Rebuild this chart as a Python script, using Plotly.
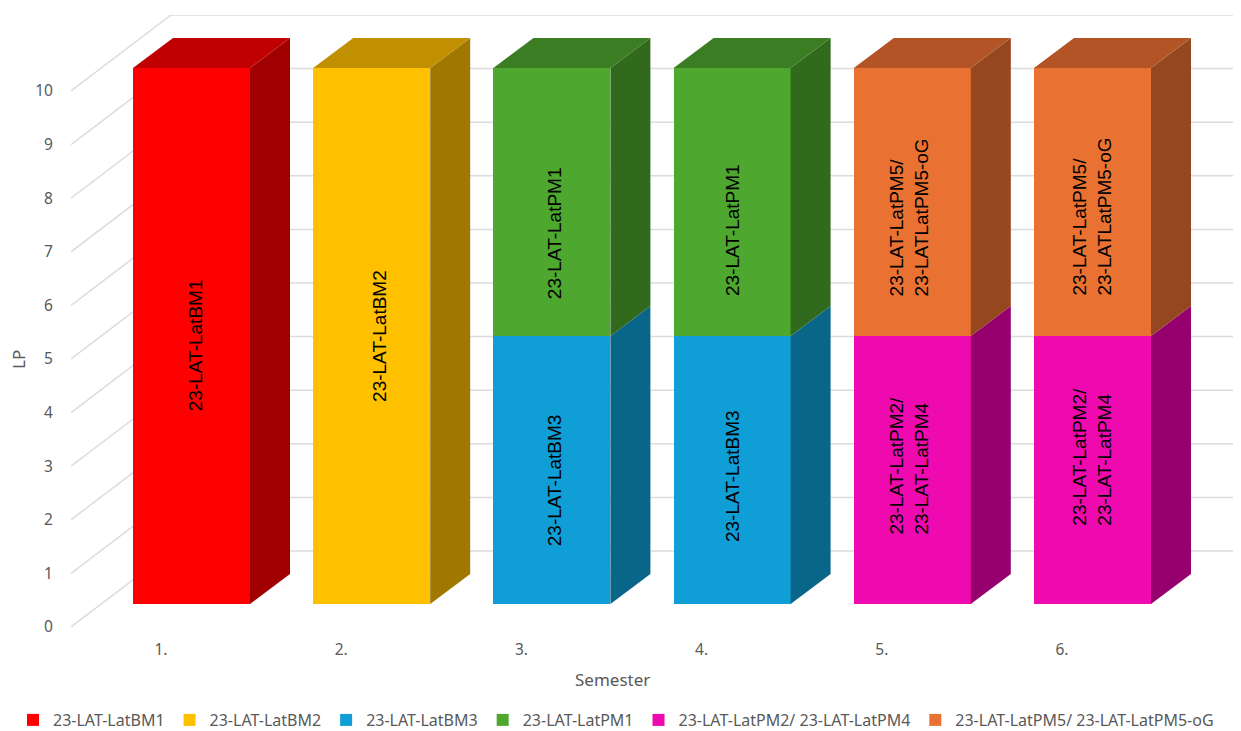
import plotly.graph_objects as go

semesters = ["1.", "2.", "3.", "4.", "5.", "6."]
positions = [0, 1, 2, 3, 4, 5]
lp_ticks = [0, 1, 2, 3, 4, 5, 6, 7, 8, 9, 10]

series_names = ["23-LAT-LatBM1", "23-LAT-LatBM2", "23-LAT-LatBM3", "23-LAT-LatPM1",
                "23-LAT-LatPM2/ 23-LAT-LatPM4", "23-LAT-LatPM5/ 23-LAT-LatPM5-oG"]
bm1 = [10, 0, 0, 0, 0, 0]
bm2 = [0, 10, 0, 0, 0, 0]
bm3 = [0, 0, 5, 5, 0, 0]
pm1 = [0, 0, 5, 5, 0, 0]
pm24 = [0, 0, 0, 0, 5, 5]
pm5 = [0, 0, 0, 0, 5, 5]
series_values = [bm1, bm2, bm3, pm1, pm24, pm5]

front_colors = ["#FF0000", "#FFC000", "#0F9ED5", "#4EA72E", "#EE0AAE", "#E97132"]
side_colors = ["#A00000", "#A07800", "#0A6688", "#31691D", "#96006E", "#95471F"]
top_colors = ["#C00000", "#C09000", "#0B769F", "#3B7D23", "#B20882", "#B25425"]

# scale of the picture (page has an 8 px body margin)
OFF = 8
W, H = 1241 - OFF, 731 - OFF
L, R, T, B = 71, 1241, 15, 627
PX_X = 180.2   # pixels per category
PX_Y = 53.6    # pixels per LP
BAR_W = 117 / PX_X
DEPTH_X = 40 / PX_X
DEPTH_Y = 30 / PX_Y
WALL_X = 100 / PX_X
WALL_Y = 76 / PX_Y

x_wall_range = [(L - 161) / PX_X, (R - 161) / PX_X]
y_wall_range = [0, (B - T) / PX_Y]
x_bar_range = [(L - 191.5) / PX_X, (R - 191.5) / PX_X]
y_bar_range = [(604 - B) / PX_Y, (604 - T) / PX_Y]
x_domain = [(L - OFF) / W, 1]

fig = go.Figure()

# walls: left wall and back wall gridlines
gx, gy = [], []
for v in lp_ticks:
    gx += [x_wall_range[0], x_wall_range[0] + WALL_X, x_wall_range[1], None]
    gy += [v, v + WALL_Y, v + WALL_Y, None]
fig.add_trace(go.Scatter(x=gx, y=gy, mode="lines", line=dict(color="#DCDCDC", width=1.5),
                         showlegend=False, hoverinfo="skip", xaxis="x", yaxis="y"))

# fronts
for name, vals, col in zip(series_names, series_values, front_colors):
    fig.add_trace(go.Bar(x=positions, y=vals, name=name, width=BAR_W,
                         marker=dict(color=col, line=dict(width=0)),
                         xaxis="x2", yaxis="y2"))

# sides and tops derived from the same values
base = [0] * len(positions)
for s, vals in enumerate(series_values):
    for i, v in enumerate(vals):
        if v <= 0:
            continue
        b, t = base[i], base[i] + v
        xr = positions[i] + BAR_W / 2
        xl = positions[i] - BAR_W / 2
        fig.add_trace(go.Scatter(
            x=[xr, xr + DEPTH_X, xr + DEPTH_X, xr, xr],
            y=[b, b + DEPTH_Y, t + DEPTH_Y, t, b],
            fill="toself", fillcolor=side_colors[s], mode="lines", line=dict(width=0),
            showlegend=False, hoverinfo="skip", xaxis="x2", yaxis="y2"))
        if t >= 10:
            fig.add_trace(go.Scatter(
                x=[xl, xl + DEPTH_X, xr + DEPTH_X, xr, xl],
                y=[t, t + DEPTH_Y, t + DEPTH_Y, t, t],
                fill="toself", fillcolor=top_colors[s], mode="lines", line=dict(width=0),
                showlegend=False, hoverinfo="skip", xaxis="x2", yaxis="y2"))
        base[i] = t

# bar labels
label_text = ["23-LAT-LatBM1", "23-LAT-LatBM2",
              "23-LAT-LatBM3", "23-LAT-LatBM3", "23-LAT-LatPM1", "23-LAT-LatPM1",
              "23-LAT-LatPM2/<br>23-LAT-LatPM4", "23-LAT-LatPM2/<br>23-LAT-LatPM4",
              "23-LAT-LatPM5/<br>23-LATLatPM5-oG", "23-LAT-LatPM5/<br>23-LATLatPM5-oG"]
label_cat = [0.02, 1.04, 2.012, 3.006, 2.012, 3.006, 3.984, 5.0, 3.984, 5.0]
label_lp = [4.83, 5.0, 2.31, 2.39, 6.92, 6.98, 2.59, 2.74, 7.22, 7.22]

annotations = [dict(x=x, y=y, xref="x2", yref="y2", text=t, showarrow=False, textangle=-90,
                    align="left", font=dict(family="Liberation Sans", size=19, color="#000000"))
               for t, x, y in zip(label_text, label_cat, label_lp)]
annotations.append(dict(x=(612 - OFF) / W, y=(B - 679) / (B - T), xref="paper", yref="paper",
                        xanchor="center", yanchor="middle",
                        text="Semester", showarrow=False,
                        font=dict(family="Noto Sans", size=17, color="#595959")))
annotations.append(dict(x=(18 - OFF) / W, y=(B - 360) / (B - T), xref="paper", yref="paper", text="LP",
                        xanchor="center", yanchor="middle",
                        textangle=-90, showarrow=False,
                        font=dict(family="Noto Sans", size=17, color="#595959")))

axis_font = dict(family="Noto Sans", size=15.5, color="#595959")
fig.update_layout(
    width=W, height=H, autosize=False,
    margin=dict(l=0, r=0, t=T - OFF, b=731 - B, pad=0),
    paper_bgcolor="white", plot_bgcolor="white",
    barmode="stack", bargap=0,
    showlegend=True,
    legend=dict(orientation="h", xref="container", yref="container",
                x=(13 - OFF) / W, xanchor="left",
                y=(731 - 720) / H, yanchor="middle",
                font=dict(family="Noto Sans", size=16, color="#595959"),
                traceorder="normal", bgcolor="rgba(0,0,0,0)"),
    annotations=annotations,
    xaxis=dict(domain=x_domain, range=x_wall_range, tickmode="array", tickvals=positions, ticktext=semesters,
               showgrid=False, zeroline=False, showline=False, ticks="outside", ticklen=8,
               tickcolor="rgba(0,0,0,0)", tickfont=axis_font),
    yaxis=dict(range=y_wall_range, tickmode="array", tickvals=lp_ticks, ticktext=[str(v) for v in lp_ticks],
               showgrid=False, zeroline=False, showline=False, ticks="outside", ticklen=14,
               tickcolor="rgba(0,0,0,0)", tickfont=axis_font),
    xaxis2=dict(domain=x_domain, range=x_bar_range, overlaying="x", visible=False),
    yaxis2=dict(range=y_bar_range, overlaying="y", visible=False),
)
fig.write_html("out.html")
